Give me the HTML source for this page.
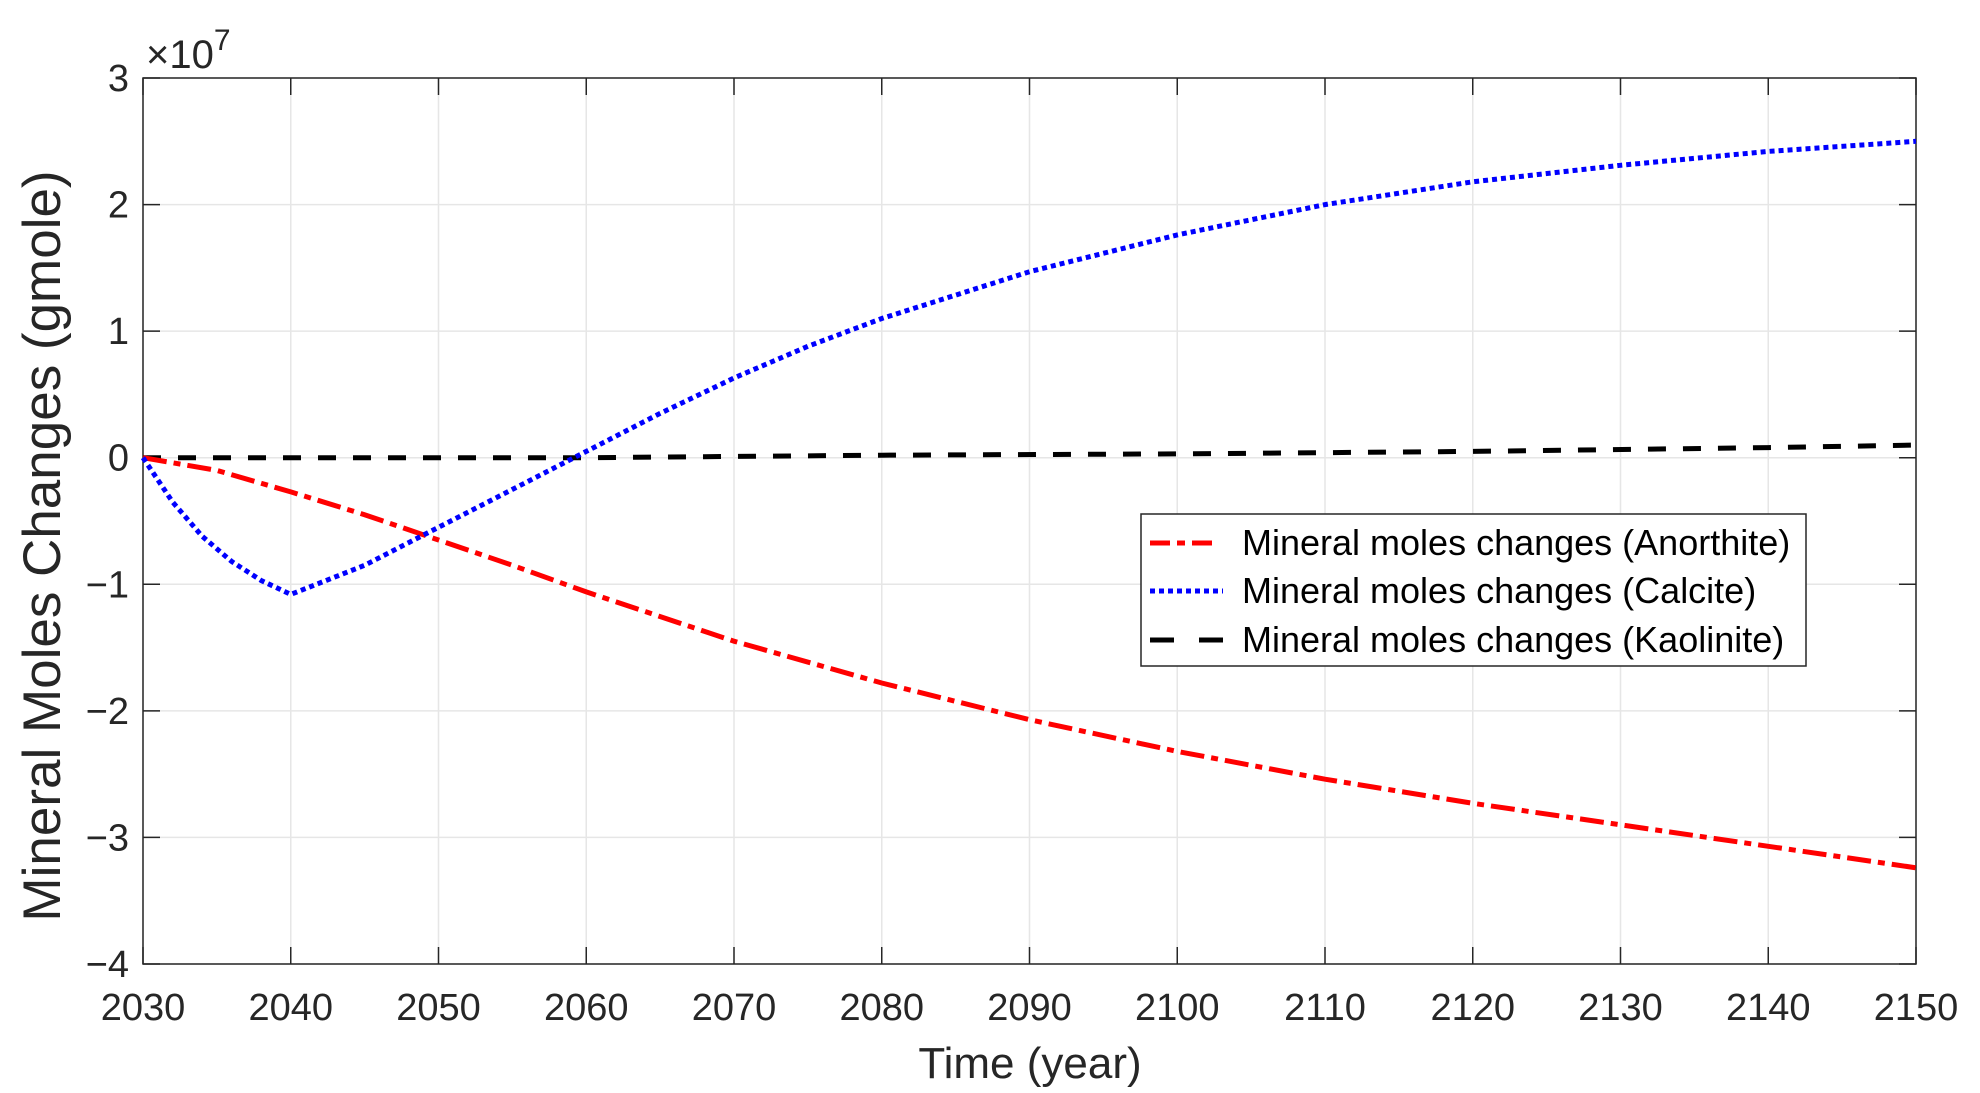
<!DOCTYPE html>
<html><head><meta charset="utf-8"><style>
html,body{margin:0;padding:0;background:#fff;}
svg{display:block;font-family:"Liberation Sans",Arial,sans-serif;}
</style></head><body>
<svg id="chart" width="1980" height="1093" viewBox="0 0 1980 1093" xmlns="http://www.w3.org/2000/svg">
<g id="grid"></g>
<rect x="143" y="78" width="1773" height="886" fill="none" stroke="#262626" stroke-width="1.5"/>
<g id="ticks"></g>
<g id="series"></g>
<text x="146" y="68" font-size="40" fill="#262626">×10<tspan dy="-18" font-size="30">7</tspan></text>
<text x="1030" y="1078" font-size="44" text-anchor="middle" fill="#262626">Time (year)</text>
<text transform="translate(60,546) rotate(-90)" font-size="53" text-anchor="middle" fill="#262626">Mineral Moles Changes (gmole)</text>
<g>
<rect x="1141" y="514" width="665" height="152" fill="#fff" stroke="#262626" stroke-width="1.5"/>
<line x1="1150" y1="543" x2="1223" y2="543" stroke="#ff0000" stroke-width="5" stroke-dasharray="20,7,8,7,20"/>
<text x="1242" y="555" font-size="36" fill="#000">Mineral moles changes (Anorthite)</text>
<line x1="1150" y1="591" x2="1223" y2="591" stroke="#0000ff" stroke-width="5" stroke-dasharray="5,4"/>
<text x="1242" y="603" font-size="36" fill="#000">Mineral moles changes (Calcite)</text>
<line x1="1150" y1="640" x2="1223" y2="640" stroke="#000" stroke-width="5" stroke-dasharray="24,25"/>
<text x="1242" y="652" font-size="36" fill="#000">Mineral moles changes (Kaolinite)</text>
</g>
</svg>
<script>
const xTicks=[2030,2040,2050,2060,2070,2080,2090,2100,2110,2120,2130,2140,2150];
const yTicks=[3,2,1,0,-1,-2,-3,-4];
const yTickLabels=["3","2","1","0","\u22121","\u22122","\u22123","\u22124"];
const anorthiteYears=[2030,2035,2040,2045,2050,2055,2060,2070,2080,2090,2100,2110,2120,2130,2140,2150];
const anorthiteValues=[0,-0.1,-0.27,-0.45,-0.65,-0.85,-1.06,-1.45,-1.78,-2.07,-2.32,-2.54,-2.73,-2.9,-3.07,-3.24];
const calciteYears=[2030,2032,2034,2036,2038,2040,2045,2050,2055,2060,2065,2070,2075,2080,2090,2100,2110,2120,2130,2140,2150];
const calciteValues=[0,-0.35,-0.62,-0.82,-0.97,-1.08,-0.85,-0.55,-0.25,0.05,0.35,0.63,0.88,1.1,1.47,1.76,2.0,2.18,2.31,2.42,2.5];
const kaoliniteYears=[2030,2060,2080,2100,2120,2140,2150];
const kaoliniteValues=[0,0,0.02,0.03,0.05,0.08,0.1];

const L=143,R=1916,T=78,B=964;
const xS=v=>L+(v-2030)/(2150-2030)*(R-L);
const yS=v=>T+(3-v)/(3-(-4))*(B-T);
const NS="http://www.w3.org/2000/svg";
function mk(tag,attrs,parent){const e=document.createElementNS(NS,tag);for(const k in attrs)e.setAttribute(k,attrs[k]);parent.appendChild(e);return e;}
const grid=document.getElementById('grid'),ticks=document.getElementById('ticks'),series=document.getElementById('series');
xTicks.forEach(t=>{
  const x=xS(t);
  const g=mk('line',{x1:x,y1:T,x2:x,y2:B,stroke:'#e6e6e6','stroke-width':1.5},grid);
  
  
  const tk=mk('line',{x1:x,y1:B,x2:x,y2:B-17,stroke:'#262626','stroke-width':1.5},ticks);
  
  
  const tk2=mk('line',{x1:x,y1:T,x2:x,y2:T+17,stroke:'#262626','stroke-width':1.5},ticks);
  
  
  const lb=mk('text',{x:x,y:1020,'font-size':38,'text-anchor':'middle',fill:'#262626'},ticks);
  lb.textContent=t;
  
  
});
yTicks.forEach((t,i)=>{
  const y=yS(t);
  const g=mk('line',{x1:L,y1:y,x2:R,y2:y,stroke:'#e6e6e6','stroke-width':1.5},grid);
  
  
  const tk=mk('line',{x1:L,y1:y,x2:L+17,y2:y,stroke:'#262626','stroke-width':1.5},ticks);
  
  
  const tk2=mk('line',{x1:R,y1:y,x2:R-17,y2:y,stroke:'#262626','stroke-width':1.5},ticks);
  
  
  const lb=mk('text',{x:129,y:y+13,'font-size':38,'text-anchor':'end',fill:'#262626'},ticks);
  lb.textContent=yTickLabels[i];
  
  
});
function pts(xs,ys){return xs.map((x,i)=>xS(x).toFixed(1)+','+yS(ys[i]).toFixed(1)).join(' ');}
const kao=mk('polyline',{points:pts(kaoliniteYears,kaoliniteValues),fill:'none',stroke:'#000','stroke-width':5,'stroke-dasharray':'18,17'},series);


const an=mk('polyline',{points:pts(anorthiteYears,anorthiteValues),fill:'none',stroke:'#ff0000','stroke-width':5,'stroke-dasharray':'24,7,7,7'},series);


const ca=mk('polyline',{points:pts(calciteYears,calciteValues),fill:'none',stroke:'#0000ff','stroke-width':5,'stroke-dasharray':'5,4'},series);


</script>
</body></html>
